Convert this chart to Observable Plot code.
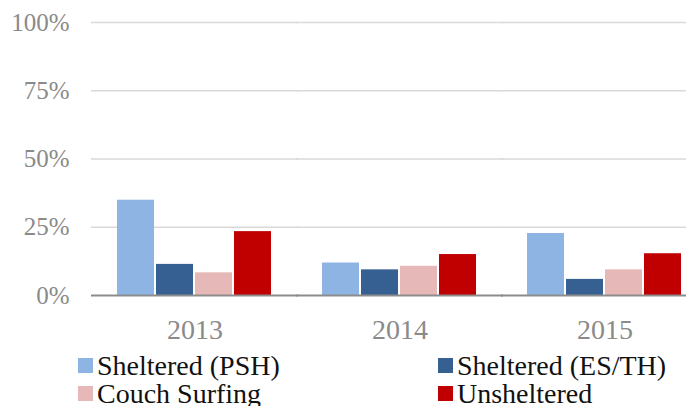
<!DOCTYPE html>
<html>
<head>
<meta charset="utf-8">
<script src="https://cdn.jsdelivr.net/npm/d3@7"></script>
<script src="https://cdn.jsdelivr.net/npm/@observablehq/plot@0.6"></script>
<style>
  html, body { margin: 0; padding: 0; background: #fff; overflow: hidden; }
  #wrap { position: relative; width: 686px; height: 406px; font-family: "Liberation Serif", "Times New Roman", Times, "DejaVu Serif", "Noto Serif", serif; }
  #chart { position: absolute; left: 0; top: 0; }
  #chart svg { font-family: "Liberation Serif", "Times New Roman", Times, "DejaVu Serif", "Noto Serif", serif !important; }
  .item { position: absolute; font-size: 28px; line-height: 28px; color: #111; white-space: nowrap; }
  .sw { position: absolute; width: 15px; height: 15px; }
</style>
</head>
<body>
<div id="wrap">
  <div id="chart"></div>
  <div id="legend"></div>
</div>
<script>
const years = ["2013", "2014", "2015"];
const series = ["Sheltered (PSH)", "Sheltered (ES/TH)", "Couch Surfing", "Unsheltered"];
const colors = ["#8eb4e3", "#376092", "#e6b9b8", "#c00000"];
const psh   = [0.349, 0.119, 0.227];
const esth  = [0.114, 0.094, 0.059];
const couch = [0.083, 0.107, 0.094];
const unsh  = [0.234, 0.150, 0.153];
const yTicks = [0, 0.25, 0.5, 0.75, 1];

const valuesBySeries = [psh, esth, couch, unsh];
const data = [];
years.forEach((yr, i) => {
  series.forEach((s, j) => data.push({year: yr, series: s, value: valuesBySeries[j][i]}));
});

const fmt = d3.format(".0%");
const ext = -26; // extend per-facet rules across the gap between year groups
const serif = '"Liberation Serif", "Times New Roman", Times, "DejaVu Serif", "Noto Serif", serif';

const plot = Plot.plot({
  width: 686,
  height: 352,
  marginLeft: 92,
  marginRight: 0,
  marginTop: 22,
  marginBottom: 57,
  style: {fontFamily: serif, background: "transparent", overflow: "visible"},
  fx: {domain: years, range: [91, 708], paddingInner: 0.242, paddingOuter: 0.121, label: null},
  x: {domain: series, paddingInner: 0.05, paddingOuter: 0, axis: null},
  y: {domain: [0, 1], axis: null},
  color: {domain: series, range: colors},
  marks: [
    Plot.ruleY(yTicks.filter(d => d > 0), {y: d => d, stroke: "#d9d9d9", strokeWidth: 1.5, insetLeft: ext, insetRight: ext}),
    Plot.barY(data, {fx: "year", x: "series", y: "value", fill: "series"}),
    Plot.ruleY([0], {stroke: "#8c8c8c", strokeWidth: 2, insetLeft: ext, insetRight: ext}),
    Plot.axisY({ticks: yTicks, tickFormat: fmt, tickSize: 0, tickPadding: 48, fontSize: 25, fill: "#8a8a8a", label: null, facetAnchor: "left"}),
    Plot.axisFx({anchor: "bottom", tickSize: 0, tickPadding: 24, fontSize: 28, fill: "#8a8a8a", label: null})
  ]
});
document.getElementById("chart").appendChild(plot);

// legend
const legendPos = [
  {sx: 78, sy: 358, tx: 97, ty: 352},
  {sx: 438, sy: 358, tx: 457, ty: 352},
  {sx: 78, sy: 386, tx: 97, ty: 380},
  {sx: 438, sy: 386, tx: 457, ty: 380}
];
const legend = document.getElementById("legend");
series.forEach((s, i) => {
  const p = legendPos[i];
  const sw = document.createElement("div");
  sw.className = "sw";
  sw.style.left = p.sx + "px"; sw.style.top = p.sy + "px"; sw.style.background = colors[i];
  legend.appendChild(sw);
  const t = document.createElement("div");
  t.className = "item";
  t.style.left = p.tx + "px"; t.style.top = p.ty + "px";
  t.textContent = s;
  legend.appendChild(t);
});
</script>
</body>
</html>
